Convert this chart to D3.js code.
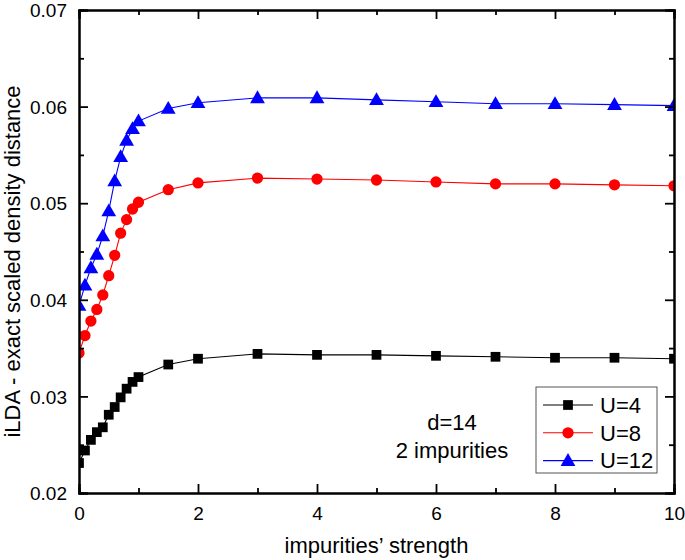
<!DOCTYPE html>
<html><head><meta charset="utf-8">
<script src="https://d3js.org/d3.v7.min.js"></script>
<style>body{margin:0;background:#fff}svg{display:block}text{font-family:"Liberation Sans",Arial,sans-serif;fill:#000}</style>
</head><body>
<script>
const xValues = [0,0.1,0.2,0.3,0.4,0.5,0.6,0.7,0.8,0.9,1.0,1.5,2,3,4,5,6,7,8,9,10];
const u4  = [0.0231,0.0244,0.0255,0.0263,0.0268,0.0281,0.0289,0.0299,0.0308,0.0315,0.0320,0.0333,0.0339,0.0344,0.0343,0.0343,0.0342,0.0341,0.0340,0.0340,0.0339];
const u8  = [0.0345,0.0363,0.0378,0.0390,0.0405,0.0425,0.0446,0.0469,0.0483,0.0494,0.0501,0.0514,0.0521,0.0526,0.0525,0.0524,0.0522,0.0520,0.0520,0.0519,0.0518];
const u12 = [0.0394,0.0415,0.0433,0.0447,0.0466,0.0492,0.0523,0.0548,0.0565,0.0577,0.0585,0.0598,0.0604,0.0609,0.0609,0.0607,0.0605,0.0603,0.0603,0.0602,0.0601];
const seriesNames = ["U=4","U=8","U=12"];
const seriesColors = ["#000000","#ff0000","#0000ff"];
const xTicks = [0,2,4,6,8,10];
const yTicks = [0.02,0.03,0.04,0.05,0.06,0.07];
const xTitle = "impurities\u2019 strength";
const yTitle = "iLDA - exact scaled density distance";
const noteLines = ["d=14","2 impurities"];

const W = 685, H = 560;
const L = 79, R = 674, T = 10, B = 493;
const svg = d3.select("body").append("svg").attr("width", W).attr("height", H);
const x = d3.scaleLinear().domain([0,10]).range([L,R]);
const y = d3.scaleLinear().domain([0.02,0.07]).range([B,T]);

svg.append("clipPath").attr("id","clip").append("rect")
  .attr("x",L).attr("y",T).attr("width",R-L).attr("height",B-T);

const symbols = [d3.symbolSquare, d3.symbolCircle, d3.symbolTriangle];
const sizes = [95, 100, 95];
const allSeries = [u4,u8,u12];

const plot = svg.append("g").attr("clip-path","url(#clip)");
allSeries.forEach((vals,i)=>{
  const pts = xValues.map((xv,j)=>[xv, vals[j]]);
  plot.append("path").datum(pts)
    .attr("fill","none").attr("stroke",seriesColors[i]).attr("stroke-width",1.1)
    .attr("d", d3.line().x(d=>x(d[0])).y(d=>y(d[1])));
  plot.selectAll(null).data(pts).enter().append("path")
    .attr("d", d3.symbol().type(symbols[i]).size(sizes[i]))
    .attr("transform", d=>`translate(${x(d[0])},${y(d[1]) + (i===2?1:0)})`)
    .attr("fill", seriesColors[i]);
});

// axes (ticks inward)
const minorX = d3.range(1,10,2);
const minorY = [0.025,0.035,0.045,0.055,0.065];
const axB = svg.append("g").attr("transform",`translate(0,${B})`)
  .call(d3.axisBottom(x).tickValues(xTicks).tickSize(-9).tickPadding(14).tickFormat(d3.format("d")));
const axBm = svg.append("g").attr("transform",`translate(0,${B})`)
  .call(d3.axisBottom(x).tickValues(minorX).tickSize(-5).tickFormat(""));
const axT = svg.append("g").attr("transform",`translate(0,${T})`)
  .call(d3.axisTop(x).tickValues(xTicks).tickSize(-9).tickFormat(""));
const axTm = svg.append("g").attr("transform",`translate(0,${T})`)
  .call(d3.axisTop(x).tickValues(minorX).tickSize(-5).tickFormat(""));
const axL = svg.append("g").attr("transform",`translate(${L},0)`)
  .call(d3.axisLeft(y).tickValues(yTicks).tickSize(-9).tickPadding(12).tickFormat(d3.format(".2f")));
const axLm = svg.append("g").attr("transform",`translate(${L},0)`)
  .call(d3.axisLeft(y).tickValues(minorY).tickSize(-5).tickFormat(""));
const axR = svg.append("g").attr("transform",`translate(${R},0)`)
  .call(d3.axisRight(y).tickValues(yTicks).tickSize(-9).tickFormat(""));
const axRm = svg.append("g").attr("transform",`translate(${R},0)`)
  .call(d3.axisRight(y).tickValues(minorY).tickSize(-5).tickFormat(""));
[axB,axBm,axT,axTm,axL,axLm,axR,axRm].forEach(g=>{
  g.selectAll(".domain").attr("stroke","#000").attr("stroke-width",2);
  g.selectAll(".tick line").attr("stroke","#000").attr("stroke-width",1.8);
  g.selectAll(".tick text").attr("font-size",19).attr("font-family","Liberation Sans, Arial, sans-serif");
});
axL.selectAll(".tick text").attr("dy","0.35em");

svg.append("text").attr("x",(L+R)/2).attr("y",553).attr("text-anchor","middle")
  .attr("font-size",22).text(xTitle);
svg.append("text").attr("transform",`translate(20,${(T+B)/2+10}) rotate(-90)`).attr("text-anchor","middle")
  .attr("font-size",22).text(yTitle);

// annotation
noteLines.forEach((t,i)=>{
  svg.append("text").attr("x",452).attr("y",430+i*28).attr("text-anchor","middle")
    .attr("font-size",22).text(t);
});

// legend
const lg = svg.append("g");
lg.append("rect").attr("x",536).attr("y",387).attr("width",121).attr("height",86)
  .attr("fill","#fff").attr("stroke","#555").attr("stroke-width",1);
seriesNames.forEach((n,i)=>{
  const cy = 405 + i*27.8;
  lg.append("line").attr("x1",543).attr("x2",593).attr("y1",cy).attr("y2",cy)
    .attr("stroke",seriesColors[i]).attr("stroke-width",1.1);
  lg.append("path").attr("d", d3.symbol().type(symbols[i]).size(sizes[i]))
    .attr("transform",`translate(568,${cy + (i===2?1:0)})`).attr("fill",seriesColors[i]);
  lg.append("text").attr("x",600).attr("y",cy).attr("dy","0.35em").attr("font-size",22).text(n);
});
</script>
</body></html>
